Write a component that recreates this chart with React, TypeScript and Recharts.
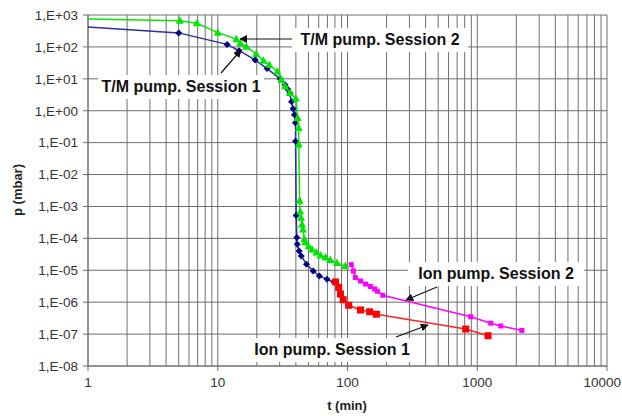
import { ScatterChart, Scatter, XAxis, YAxis, CartesianGrid, ReferenceLine } from "recharts";

// T/M pump, session 1 (navy diamonds)
const tmSession1 = [
  { t: 1, p: 420 },
  { t: 5, p: 275 },
  { t: 11.8, p: 120 },
  { t: 14.6, p: 76 },
  { t: 19.4, p: 39 },
  { t: 24, p: 21 },
  { t: 30.3, p: 10 },
  { t: 33, p: 6.5 },
  { t: 34.8, p: 4.6 },
  { t: 36, p: 3.5 },
  { t: 37, p: 1.9 },
  { t: 38.1, p: 1.15 },
  { t: 39, p: 0.75 },
  { t: 39.7, p: 0.42 },
  { t: 39.8, p: 0.11 },
  { t: 40.2, p: 5.2e-4 },
  { t: 40.7, p: 1.07e-4 },
  { t: 41, p: 6.5e-5 },
  { t: 42.4, p: 4e-5 },
  { t: 44, p: 2.8e-5 },
  { t: 48.3, p: 1.55e-5 },
  { t: 54.4, p: 9.5e-6 },
  { t: 60.8, p: 6.6e-6 },
  { t: 69.6, p: 5.2e-6 },
  { t: 78.5, p: 4.3e-6 },
];

// T/M pump, session 2 (green triangles)
const tmSession2 = [
  { t: 1, p: 750 },
  { t: 5.1, p: 660 },
  { t: 6.9, p: 550 },
  { t: 10, p: 280 },
  { t: 13.9, p: 175 },
  { t: 14.9, p: 130 },
  { t: 16.6, p: 102 },
  { t: 19.8, p: 60 },
  { t: 22.5, p: 37 },
  { t: 25, p: 27 },
  { t: 28.8, p: 17 },
  { t: 30.9, p: 9.3 },
  { t: 33, p: 5.8 },
  { t: 36, p: 3.6 },
  { t: 40, p: 2.4 },
  { t: 41.3, p: 0.59 },
  { t: 42.1, p: 0.29 },
  { t: 42.1, p: 0.087 },
  { t: 42.8, p: 1.5e-3 },
  { t: 43.2, p: 7e-4 },
  { t: 43.8, p: 4.4e-4 },
  { t: 44.6, p: 2.7e-4 },
  { t: 45.4, p: 1.9e-4 },
  { t: 46.5, p: 9.3e-5 },
  { t: 47.3, p: 7.6e-5 },
  { t: 50.1, p: 5.7e-5 },
  { t: 53.3, p: 4.5e-5 },
  { t: 57.6, p: 3.6e-5 },
  { t: 61.9, p: 2.9e-5 },
  { t: 67.6, p: 2.5e-5 },
  { t: 73.7, p: 2.1e-5 },
  { t: 83, p: 1.7e-5 },
  { t: 96.3, p: 1.35e-5 },
];

// Ion pump, session 1 (red squares)
const ionSession1 = [
  { t: 81, p: 4.3e-6 },
  { t: 85.5, p: 2.9e-6 },
  { t: 88.3, p: 1.8e-6 },
  { t: 92.6, p: 1.2e-6 },
  { t: 102, p: 8e-7 },
  { t: 126, p: 5.7e-7 },
  { t: 148, p: 5e-7 },
  { t: 167, p: 4.2e-7 },
  { t: 815, p: 1.44e-7 },
  { t: 1211, p: 8.9e-8 },
];

// Ion pump, session 2 (magenta small squares)
const ionSession2 = [
  { t: 107, p: 1.5e-5 },
  { t: 111, p: 9.5e-6 },
  { t: 115, p: 5.9e-6 },
  { t: 126, p: 4.6e-6 },
  { t: 138, p: 3.7e-6 },
  { t: 150, p: 3.1e-6 },
  { t: 162, p: 2.6e-6 },
  { t: 170, p: 2.2e-6 },
  { t: 187, p: 1.65e-6 },
  { t: 890, p: 3.5e-7 },
  { t: 1270, p: 2.2e-7 },
  { t: 1517, p: 1.8e-7 },
  { t: 2206, p: 1.3e-7 },
];

const xTicks = [1, 10, 100, 1000, 10000];
const yTicks = [1e-8, 1e-7, 1e-6, 1e-5, 1e-4, 1e-3, 1e-2, 1e-1, 1, 10, 100, 1000];

// minor log grid lines 2..9 in each decade
const xMinor: number[] = [];
[1, 10, 100, 1000].forEach((d) => {
  for (let m = 2; m <= 9; m++) xMinor.push(d * m);
});

const fmtY = (v: number) => {
  const e = Math.round(Math.log10(v));
  const a = Math.abs(e);
  return "1,E" + (e < 0 ? "-" : "+") + (a < 10 ? "0" + a : "" + a);
};

const GRID = "#6e6e6e";
const FONT = "'Liberation Sans', Arial, sans-serif";
const tickStyle = { fontSize: 13.5, fill: "#333", fontFamily: FONT };

// last x label sits against the right edge of the page
const XTick = (p: any) => {
  const last = p.payload.value === 10000;
  return (
    <text
      x={last ? 621 : p.x}
      y={p.y}
      dy="0.71em"
      textAnchor={last ? "end" : "middle"}
      fontSize={13.5}
      fill="#333"
      fontFamily={FONT}
    >
      {p.payload.value}
    </text>
  );
};

const hideFirst = (p: any) => p.payload && p.payload.t <= 1;

const Diamond = (p: any) => {
  if (hideFirst(p)) return <g />;
  const { cx, cy } = p;
  const r = 3.5;
  return <polygon points={`${cx},${cy - r} ${cx + r},${cy} ${cx},${cy + r} ${cx - r},${cy}`} fill="#000080" />;
};

const Triangle = (p: any) => {
  if (hideFirst(p)) return <g />;
  const { cx, cy } = p;
  return <polygon points={`${cx},${cy - 4.5} ${cx + 4},${cy + 3} ${cx - 4},${cy + 3}`} fill="#00e600" />;
};

const BigSquare = (p: any) => <rect x={p.cx - 3.5} y={p.cy - 3.5} width={7} height={7} fill="#ff0000" />;
const SmallSquare = (p: any) => <rect x={p.cx - 2.5} y={p.cy - 2.5} width={5} height={5} fill="#ff00ff" />;

const Note = ({ x, y, w, text, from, to }: any) => (
  <g>
    <line x1={from[0]} y1={from[1]} x2={to[0]} y2={to[1]} stroke="#111" strokeWidth={1.2} markerEnd="url(#arrow)" />
    <rect x={x - w / 2} y={y - 17} width={w} height={24} fill="#fff" />
    <text x={x} y={y} textAnchor="middle" fontFamily={FONT} fontWeight="bold" fontSize={16} fill="#111">
      {text}
    </text>
  </g>
);

export default function App() {
  return (
    <div style={{ position: "absolute", left: 0, top: 0, width: 622, height: 416, background: "#fff" }}>
      <ScatterChart width={622} height={416} margin={{ top: 15, right: 15, bottom: 0, left: 0 }}>
        <CartesianGrid stroke={GRID} strokeWidth={1} />
        <XAxis
          dataKey="t"
          type="number"
          scale="log"
          domain={[1, 10000]}
          ticks={xTicks}
          allowDataOverflow
          height={50}
          tickSize={5}
          tickMargin={6}
          stroke={GRID}
          tick={XTick}
        />
        <YAxis
          dataKey="p"
          type="number"
          scale="log"
          domain={[1e-8, 1000]}
          ticks={yTicks}
          allowDataOverflow
          width={88}
          tickSize={5}
          tickMargin={5}
          stroke={GRID}
          tick={tickStyle}
          tickFormatter={fmtY}
          interval={0}
        />
        {xMinor.map((v) => (
          <ReferenceLine key={v} x={v} stroke={GRID} strokeWidth={1} />
        ))}
        <Scatter data={tmSession1} line={{ stroke: "#2e2e9e", strokeWidth: 1.5 }} shape={Diamond} isAnimationActive={false} />
        <Scatter data={tmSession2} line={{ stroke: "#00e600", strokeWidth: 1.5 }} shape={Triangle} isAnimationActive={false} />
        <Scatter data={ionSession1} line={{ stroke: "#ff2020", strokeWidth: 1.5 }} shape={BigSquare} isAnimationActive={false} />
        <Scatter data={ionSession2} line={{ stroke: "#ff00ff", strokeWidth: 1.5 }} shape={SmallSquare} isAnimationActive={false} />
      </ScatterChart>
      <svg width={622} height={416} style={{ position: "absolute", left: 0, top: 0, pointerEvents: "none" }}>
        <defs>
          <marker id="arrow" viewBox="0 0 10 10" refX="9" refY="5" markerWidth="8" markerHeight="8" markerUnits="userSpaceOnUse" orient="auto">
            <path d="M0,0 L10,5 L0,10 z" fill="#111" />
          </marker>
        </defs>
        <Note x={380} y={45} w={176} text="T/M pump. Session 2" from={[292, 39]} to={[240, 39]} />
        <Note x={181} y={92} w={166} text="T/M pump. Session 1" from={[221, 73]} to={[241, 50]} />
        <Note x={496} y={279} w={176} text="Ion pump. Session 2" from={[437, 287]} to={[406, 300]} />
        <Note x={332} y={355} w={170} text="Ion pump. Session 1" from={[396, 337]} to={[428, 325]} />
        <text x={347} y={410} textAnchor="middle" fontFamily={FONT} fontWeight="bold" fontSize={13} fill="#222">
          t (min)
        </text>
        <text
          x={0}
          y={0}
          transform="translate(22,190) rotate(-90)"
          textAnchor="middle"
          fontFamily={FONT}
          fontWeight="bold"
          fontSize={13}
          fill="#222"
        >
          p (mbar)
        </text>
      </svg>
    </div>
  );
}
